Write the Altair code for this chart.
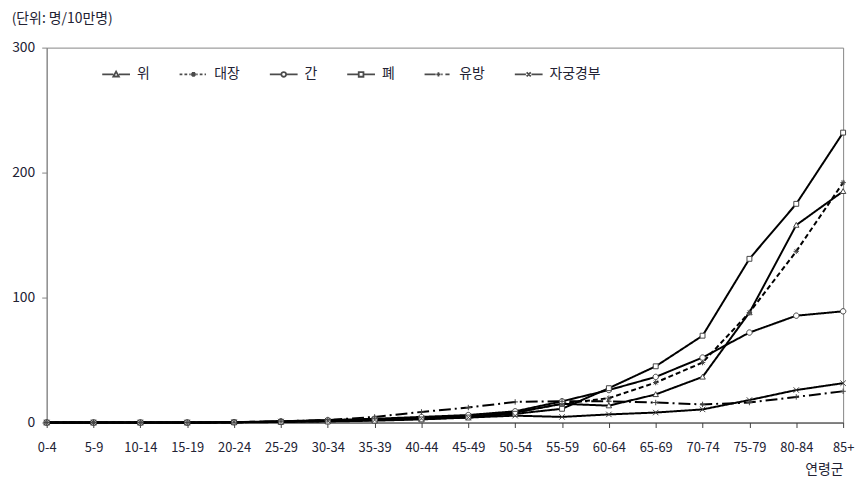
import altair as alt
import pandas as pd

categories = ["0-4", "5-9", "10-14", "15-19", "20-24", "25-29", "30-34", "35-39", "40-44",
              "45-49", "50-54", "55-59", "60-64", "65-69", "70-74", "75-79", "80-84", "85+"]
series_names = ["위", "대장", "간", "폐", "유방", "자궁경부"]

stomach = [0, 0, 0, 0, 0.2, 0.8, 1.5, 2.5, 3.5, 5, 8, 15, 13.5, 22.5, 36.5, 88, 158, 185]
colorectal = [0, 0, 0, 0, 0.2, 0.6, 1.2, 2, 3.5, 5, 8, 15, 19.5, 32, 48, 88, 137, 192]
liver = [0, 0, 0, 0, 0.3, 1, 2, 3, 4.5, 6, 9, 17, 26, 36.5, 52, 72, 85.5, 89]
lung = [0, 0, 0, 0, 0.1, 0.4, 0.8, 1.5, 2.5, 4, 7, 11, 27.5, 45, 69.5, 131, 175, 232]
breast = [0, 0, 0, 0, 0.2, 1, 2, 4.5, 8.5, 12, 16.5, 17, 17, 16, 14.5, 16, 20.5, 25]
cervix = [0, 0, 0, 0, 0.2, 0.8, 1.5, 2, 3, 4, 5.5, 4.5, 6.5, 8, 10.5, 18, 26, 31.5]

all_series = [stomach, colorectal, liver, lung, breast, cervix]
rows = []
for name, vals in zip(series_names, all_series):
    for i, (c, v) in enumerate(zip(categories, vals)):
        rows.append({"age": c, "idx": i, "series": name, "value": v})
df = pd.DataFrame(rows)

FONT = "Noto Sans CJK KR"
TXT = "#222233"

# styles
dashes = [[1, 0], [5, 3], [1, 0], [1, 0], [12, 4, 2, 4], [1, 0]]
marker_paths = [
    "M0,-1L1,0.8L-1,0.8Z",
    "M-1,0H1M0,-1V1M-0.7,-0.7L0.7,0.7M-0.7,0.7L0.7,-0.7",
    "M-1,0A1,1 0 1,0 1,0A1,1 0 1,0 -1,0Z",
    "M-0.9,-0.9H0.9V0.9H-0.9Z",
    "M-1,0H1M0,-1V1",
    "M-1,-1L1,1M-1,1L1,-1",
]
solid = "M-1,0H-0.2M0.2,0H1"
legend_paths = [
    solid + "M0,-0.2L0.2,0.15L-0.2,0.15Z",
    "M-1,0H-0.8M-0.65,0H-0.45M-0.3,0H-0.2M0.2,0H0.3M0.45,0H0.65M0.8,0H0.9"
    + "M-0.17,0H0.17M0,-0.17V0.17M-0.12,-0.12L0.12,0.12M-0.12,0.12L0.12,-0.12",
    solid + "M-0.17,0A0.17,0.17 0 1,0 0.17,0A0.17,0.17 0 1,0 -0.17,0Z",
    solid + "M-0.17,-0.17H0.17V0.17H-0.17Z",
    "M-1,0H-0.2M0.2,0H0.3M0.5,0H0.8" + "M-0.15,0H0.15M0,-0.15V0.15",
    solid + "M-0.15,-0.15L0.15,0.15M-0.15,0.15L0.15,-0.15",
]

x = alt.X(
    "age:N", sort=categories,
    scale=alt.Scale(type="point", padding=0),
    axis=alt.Axis(title="연령군", labelAngle=0, labelFont=FONT, labelFontSize=13,
                  labelColor=TXT, labelPadding=14, tickSize=5, tickColor="#404040",
                  domainColor="#404040", labelOverlap=False, titleAnchor="end",
                  titleAlign="right", titleFont=FONT, titleFontSize=14,
                  titleFontWeight="normal", titleColor=TXT, titlePadding=8),
)
y = alt.Y(
    "value:Q", scale=alt.Scale(domain=[0, 300], nice=False),
    axis=alt.Axis(values=[0, 100, 200, 300], grid=False, title=None, labelFont=FONT,
                  labelFontSize=14, labelColor=TXT, tickSize=5, tickColor="#868686",
                  domainColor="#868686", labelPadding=7),
)

lines = alt.Chart(df).mark_line(color="black", strokeWidth=2).encode(
    x=x, y=y, detail="series:N", order=alt.Order("idx:Q"),
    strokeDash=alt.StrokeDash("series:N",
                              scale=alt.Scale(domain=series_names, range=dashes),
                              legend=None),
)

points = alt.Chart(df).mark_point(filled=True, fill="white", stroke="#444444",
                                  strokeWidth=1, size=30, opacity=1).encode(
    x=x, y=y,
    shape=alt.Shape("series:N", scale=alt.Scale(domain=series_names, range=marker_paths),
                    legend=None),
)

legend_layer = alt.Chart(df).transform_filter("false").mark_point(
    filled=False, color="black", strokeWidth=1.8
).encode(
    x=x, y=y,
    shape=alt.Shape("series:N", scale=alt.Scale(domain=series_names, range=legend_paths),
                    legend=alt.Legend(title=None, orient="none", legendX=55, legendY=12,
                                      direction="horizontal", columns=6, symbolSize=784,
                                      symbolStrokeWidth=1.8, symbolStrokeColor="black",
                                      labelFont=FONT, labelFontSize=14, labelColor=TXT,
                                      labelOffset=6, columnPadding=26, padding=0)),
)

chart = alt.layer(lines, points, legend_layer).resolve_scale(
    shape="independent"
).properties(
    width=803, height=378,
    autosize=alt.AutoSizeParams(type="none"),
    padding={"left": 39, "top": 38, "right": 14, "bottom": 58},
    title=alt.TitleParams("(단위: 명/10만명)", anchor="start", font=FONT, fontSize=14,
                          fontWeight="normal", color=TXT, offset=15),
).configure_view(stroke="#868686")

chart.save("out.html", embed_options={"renderer": "svg", "actions": False})
